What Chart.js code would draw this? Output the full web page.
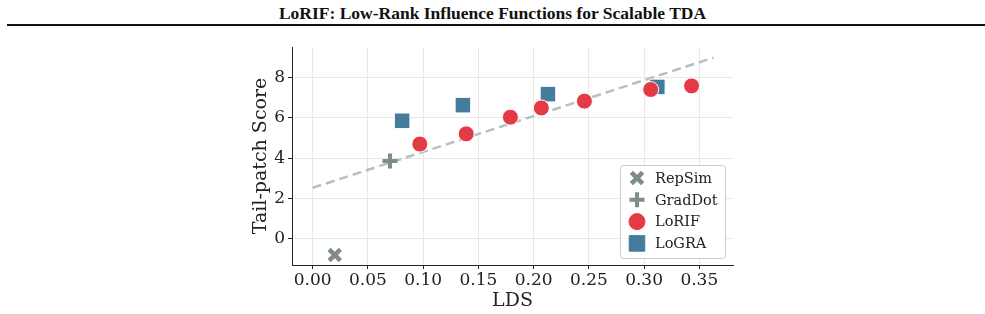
<!DOCTYPE html>
<html>
<head>
<meta charset="utf-8">
<script src="https://cdn.jsdelivr.net/npm/chart.js@4.4.1/dist/chart.umd.min.js"></script>
<style>
  html, body { margin: 0; padding: 0; background: #fff; }
  body { width: 985px; height: 314px; position: relative; overflow: hidden; }
  #title {
    position: absolute; left: 0; top: 3px; width: 985px; text-align: center;
    font-family: "Liberation Serif", "Times New Roman", serif; font-weight: bold; font-size: 17.5px; color: #111;
  }
  #rule { position: absolute; left: 7px; right: 0; top: 24px; height: 2px; background: #111; }
  #wrap { position: absolute; left: 0; top: 0; width: 985px; height: 314px; }
</style>
</head>
<body>
<div id="title">LoRIF: Low-Rank Influence Functions for Scalable TDA</div>
<div id="rule"></div>
<div id="wrap"><canvas id="chart"></canvas></div>
<script>
// values
const repSimLds = [0.020];
const repSimScore = [-0.83];
const gradDotLds = [0.070];
const gradDotScore = [3.85];
const lorifLds = [0.097, 0.139, 0.179, 0.207, 0.246, 0.306, 0.343];
const lorifScore = [4.70, 5.21, 6.04, 6.50, 6.84, 7.42, 7.60];
const lograLds = [0.081, 0.136, 0.213, 0.312];
const lograScore = [5.86, 6.64, 7.19, 7.55];
// dashed trend line end points
const trendLds = [0.0, 0.363];
const trendScore = [2.52, 9.01];

const xTicks = [0, 0.05, 0.1, 0.15, 0.2, 0.25, 0.3, 0.35];
const yTicks = [0, 2, 4, 6, 8];

const gray = "#7f8c8d";
const red = "#e63946";
const blue = "#457b9d";

function pts(xs, ys) {
  return xs.map((x, i) => ({ x: x, y: ys[i] }));
}

const serif = "'DejaVu Serif', serif";

// legend drawn inside the plot, bottom right
const legendBox = {
  id: "legendBox",
  afterDatasetsDraw(chart) {
    const ctx = chart.ctx;
    const items = chart.data.datasets.filter(d => d.inLegend);
    const x0 = 620, y0 = 165, w = 105, h = 93;
    ctx.save();
    ctx.beginPath();
    ctx.roundRect(x0 + 0.5, y0 + 0.5, w, h, 3);
    ctx.fillStyle = "rgba(255,255,255,0.85)";
    ctx.fill();
    ctx.strokeStyle = "#cccccc";
    ctx.lineWidth = 1;
    ctx.stroke();
    items.forEach((d, i) => {
      const cy = 178 + i * 21.8;
      ctx.fillStyle = d.backgroundColor;
      ctx.strokeStyle = d.legendBorder || d.borderColor;
      ctx.lineWidth = d.borderWidth;
      Chart.helpers.drawPoint(ctx, {
        pointStyle: d.pointStyle,
        radius: d.pointRadius,
        borderWidth: d.borderWidth,
        rotation: 0
      }, 637, cy);
      ctx.fillStyle = "#222";
      ctx.font = "14.5px " + serif;
      ctx.textBaseline = "middle";
      ctx.textAlign = "left";
      ctx.fillText(d.label, 655, cy + 1);
    });
    ctx.restore();
  }
};

new Chart(document.getElementById("chart"), {
  type: "scatter",
  data: {
    datasets: [
      {
        label: "RepSim", inLegend: true, data: pts(repSimLds, repSimScore),
        pointStyle: "crossRot", pointRadius: 8, borderWidth: 4.5,
        borderColor: gray, backgroundColor: gray, order: 2
      },
      {
        label: "GradDot", inLegend: true, data: pts(gradDotLds, gradDotScore),
        pointStyle: "cross", pointRadius: 7.5, borderWidth: 4,
        borderColor: gray, backgroundColor: gray, order: 2
      },
      {
        label: "LoRIF", inLegend: true, data: pts(lorifLds, lorifScore),
        pointStyle: "circle", pointRadius: 8, borderWidth: 1,
        borderColor: "#ffffff", backgroundColor: red, legendBorder: red, order: 1
      },
      {
        label: "LoGRA", inLegend: true, data: pts(lograLds, lograScore),
        pointStyle: "rect", pointRadius: 11, borderWidth: 1,
        borderColor: "#ffffff", backgroundColor: blue, legendBorder: blue, order: 3
      },
      {
        label: "trend", inLegend: false, data: pts(trendLds, trendScore),
        type: "line", showLine: true, pointRadius: 0, borderWidth: 2.5,
        borderColor: "rgba(160,178,175,0.8)", borderDash: [9, 5], fill: false, order: 10
      }
    ]
  },
  options: {
    responsive: true,
    maintainAspectRatio: false,
    animation: false,
    events: [],
    layout: { padding: { left: 240, top: 47, right: 252, bottom: 0 } },
    plugins: { legend: { display: false }, tooltip: { enabled: false } },
    scales: {
      x: {
        type: "linear", min: -0.0187, max: 0.3805,
        afterBuildTicks: s => { s.ticks = xTicks.map(v => ({ value: v })); },
        afterFit: s => { s.height = 49; },
        ticks: { font: { family: serif, size: 17 }, color: "#222", padding: 1, maxRotation: 0,
                 callback: v => v.toFixed(2) },
        grid: { color: "#e8e8e8", tickColor: "#222", tickLength: 4, lineWidth: 1 },
        border: { color: "#222", width: 1 },
        title: { display: true, text: "LDS", font: { family: serif, size: 19 }, color: "#222",
                 padding: { top: 0, bottom: 2 } }
      },
      y: {
        type: "linear", min: -1.33, max: 9.54,
        afterBuildTicks: s => { s.ticks = yTicks.map(v => ({ value: v })); },
        afterFit: s => { s.width = 52; },
        ticks: { font: { family: serif, size: 17 }, color: "#222", padding: 3 },
        grid: { color: "#e8e8e8", tickColor: "#222", tickLength: 4, lineWidth: 1 },
        border: { color: "#222", width: 1 },
        title: { display: true, text: "Tail-patch Score", font: { family: serif, size: 19 }, color: "#222",
                 padding: { top: 10, bottom: 0 } }
      }
    }
  },
  plugins: [legendBox]
});
</script>
</body>
</html>
